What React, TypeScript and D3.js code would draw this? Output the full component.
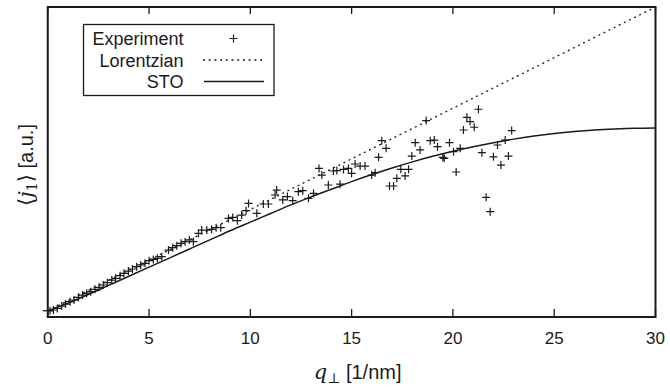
import React from 'react';
import * as d3 from 'd3';

// measured points (q in 1/nm, j1 in arbitrary units)
const expX = [
  0.11, 0.28, 0.47, 0.69, 0.88, 1.10, 1.30, 1.51, 1.72, 1.92, 2.12, 2.33, 2.53, 2.74, 2.94,
  3.16, 3.35, 3.57, 3.76, 3.98, 4.18, 4.39, 4.59, 4.80, 5.00, 5.21, 5.41, 5.63,
  5.96, 6.17, 6.37, 6.58, 6.78, 6.99, 7.19, 7.44, 7.60, 7.85, 8.09, 8.31, 8.54,
  8.92, 9.13, 9.36, 9.57, 9.79, 9.91, 10.32, 10.64, 10.89, 11.22, 11.30, 11.60, 11.83,
  12.09, 12.37, 12.59, 12.87, 13.12, 13.39, 13.53, 13.85, 14.10, 14.27, 14.43, 14.60, 14.84,
  15.00, 15.17, 15.42, 15.66, 15.99, 16.16, 16.33, 16.49, 16.70, 16.87, 17.07, 17.23, 17.43,
  17.64, 17.81, 17.97, 18.14, 18.38, 18.68, 18.88, 19.08, 19.24, 19.50, 19.57, 19.83, 20.03,
  20.16, 20.36, 20.52, 20.69, 20.85, 21.05, 21.26, 21.43, 21.64, 21.84, 22.00, 22.20, 22.37,
  22.58, 22.74, 22.90,
];
const expY = [
  0.00, 0.07, 0.23, 0.46, 0.66, 0.89, 1.06, 1.32, 1.55, 1.72, 1.88, 2.11, 2.31, 2.54, 2.77,
  3.03, 3.20, 3.46, 3.69, 3.92, 4.12, 4.35, 4.52, 4.68, 4.94, 5.07, 5.17, 5.34,
  5.99, 6.23, 6.43, 6.66, 6.82, 6.99, 6.82, 7.64, 7.97, 7.97, 8.04, 8.20, 8.20,
  9.12, 9.22, 8.89, 9.45, 9.88, 10.60, 9.62, 10.54, 10.54, 11.43, 11.92, 10.94, 11.27,
  10.87, 11.76, 11.86, 11.10, 11.60, 14.06, 13.40, 12.42, 13.80, 13.84, 12.50, 13.96, 14.06,
  13.57, 14.49, 14.29, 14.29, 13.40, 13.64, 15.15, 16.80, 16.04, 12.32, 12.32, 13.08, 13.97,
  13.31, 13.97, 15.28, 16.60, 15.88, 18.78, 16.80, 16.86, 16.20, 15.15, 15.05, 16.60, 15.71,
  13.70, 16.04, 17.85, 19.10, 18.68, 18.12, 19.90, 15.61, 11.20, 9.78, 15.20, 16.37, 14.39,
  16.86, 15.28, 17.79,
];

// Lorentzian model
const lorX = [0, 10, 20, 30];
const lorY = [0, 10, 20, 30];

// STO model
const stoX = [0, 1, 2, 3, 4, 5, 6, 7, 8, 9, 10, 11, 12, 13, 14, 15, 16, 17, 18, 19, 20,
  21, 22, 23, 24, 25, 26, 27, 28, 29, 30];
const stoY = [0, 0.75, 1.6, 2.5, 3.4, 4.3, 5.2, 6.1, 7.0, 7.9, 8.75, 9.6, 10.45, 11.25, 12.0,
  12.75, 13.45, 14.1, 14.7, 15.25, 15.75, 16.2, 16.6, 16.95, 17.25, 17.5, 17.7, 17.85,
  17.95, 18.02, 18.05];

const xTicks = [0, 5, 10, 15, 20, 25, 30];
const legendLabels = ['Experiment', 'Lorentzian', 'STO'];

const W = 670;
const H = 390;
const margin = { top: 7, right: 14.5, bottom: 73, left: 47.75 };
const innerW = W - margin.left - margin.right;
const innerH = H - margin.top - margin.bottom;

const ink = '#1a1a1a';
const sans = '"Liberation Sans", Arial, sans-serif';
const serif = '"DejaVu Serif", "Liberation Serif", serif';

export default function App() {
  const x = d3.scaleLinear().domain([0, 30]).range([0, innerW]);
  const y = d3.scaleLinear().domain([-0.62, 30]).range([innerH, 0]);

  const line = d3.line<[number, number]>().x(d => x(d[0])).y(d => y(d[1]));
  const lorPath = line(lorX.map((v, i) => [v, lorY[i]]) as [number, number][]) || '';
  const stoPath = line.curve(d3.curveMonotoneX)(stoX.map((v, i) => [v, stoY[i]]) as [number, number][]) || '';

  const plus = (cx: number, cy: number, r = 4) => `M${cx - r},${cy}H${cx + r}M${cx},${cy - r}V${cy + r}`;

  // legend geometry
  const lg = { x: 83.5 - margin.left, y: 24.5 - margin.top, w: 190.5, h: 71 };
  const rowY = [38.5, 60, 81.5].map(v => v - margin.top);

  return (
    <div style={{ position: 'fixed', left: 0, top: 0, background: '#fff' }}>
      <svg width={W} height={H} style={{ display: 'block' }}>
        <rect width={W} height={H} fill="#fff" />
        <defs>
          <clipPath id="plot">
            <rect x={0} y={0} width={innerW} height={innerH} />
          </clipPath>
        </defs>
        <g transform={`translate(${margin.left},${margin.top})`}>
          {/* ticks: bottom pointing up, top pointing down */}
          {xTicks.map(t => (
            <g key={t}>
              <line x1={x(t)} x2={x(t)} y1={innerH} y2={innerH - 8} stroke={ink} strokeWidth={1.3} />
              <line x1={x(t)} x2={x(t)} y1={0} y2={7} stroke={ink} strokeWidth={1.3} />
              <text x={x(t)} y={innerH + 27} textAnchor="middle" fontFamily={sans} fontSize={17} fill={ink}>{t}</text>
            </g>
          ))}
          {/* y tick at zero */}
          <line x1={-5} x2={5} y1={y(0)} y2={y(0)} stroke={ink} strokeWidth={1.3} />

          <g clipPath="url(#plot)">
            <path d={lorPath} fill="none" stroke={ink} strokeWidth={1.3} strokeDasharray="2,3.7" />
            <path d={stoPath} fill="none" stroke={ink} strokeWidth={1.5} />
            <path
              d={expX.map((v, i) => plus(x(v), y(expY[i]))).join('')}
              fill="none" stroke={ink} strokeWidth={1.2}
            />
          </g>

          <rect x={0} y={0} width={innerW} height={innerH} fill="none" stroke={ink} strokeWidth={2} />

          {/* legend */}
          <rect x={lg.x} y={lg.y} width={lg.w} height={lg.h} fill="#fff" stroke={ink} strokeWidth={1.3} />
          {legendLabels.map((l, i) => (
            <text key={l} x={183.5 - margin.left} y={rowY[i] + 6.5} textAnchor="end" fontFamily={sans} fontSize={18} fill={ink}>{l}</text>
          ))}
          <path d={plus(233.5 - margin.left, rowY[0])} stroke={ink} strokeWidth={1.2} />
          <line x1={203 - margin.left} x2={264 - margin.left} y1={rowY[1]} y2={rowY[1]} stroke={ink} strokeWidth={1.3} strokeDasharray="2,3.7" />
          <line x1={204 - margin.left} x2={264 - margin.left} y1={rowY[2]} y2={rowY[2]} stroke={ink} strokeWidth={1.5} />
        </g>

        {/* axis titles */}
        <text x={margin.left + innerW / 2 + 6} y={379} textAnchor="middle" fontFamily={sans} fontSize={20} fill={ink}>
          <tspan fontFamily={serif} fontStyle="italic" fontSize={21}>q</tspan>
          <tspan fontFamily={serif} fontSize={14} dy={4}>⊥</tspan>
          <tspan dy={-4}> [1/nm]</tspan>
        </text>
        <text transform="translate(33,165) rotate(-90)" textAnchor="middle" fontFamily={sans} fontSize={20} fill={ink}>
          <tspan fontFamily={serif} fontSize={21}>⟨</tspan>
          <tspan fontFamily={serif} fontStyle="italic" fontSize={21}>j</tspan>
          <tspan fontFamily={serif} fontSize={14} dy={4}>1</tspan>
          <tspan fontFamily={serif} fontSize={21} dy={-4}>⟩</tspan>
          <tspan> [a.u.]</tspan>
        </text>
      </svg>
    </div>
  );
}
